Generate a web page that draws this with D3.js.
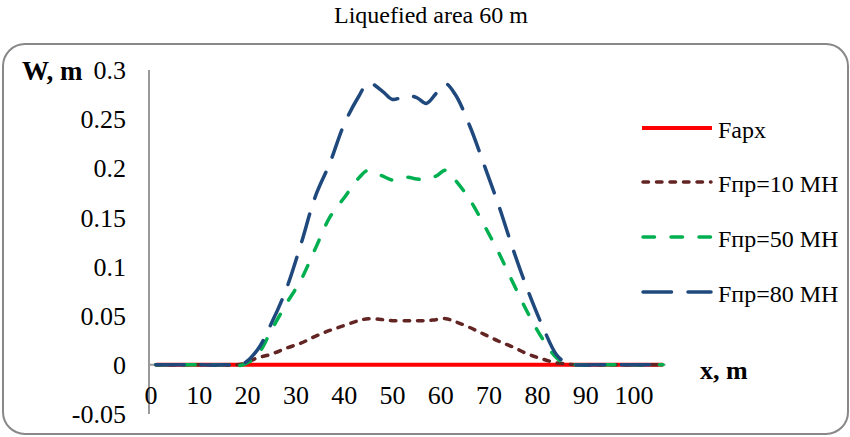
<!DOCTYPE html>
<html>
<head>
<meta charset="utf-8">
<script src="https://cdn.jsdelivr.net/npm/d3@7"></script>
<style>
  body { margin: 0; background: #fff; }
  svg { font-family: "Liberation Serif", "Times New Roman", serif; }
</style>
</head>
<body>
<svg id="chart" width="850" height="437"></svg>
<script>
// x positions, m
const xs = [1, 5, 10, 15, 19, 22, 25, 28, 31, 34, 37, 40, 43, 45, 48, 50, 53, 55, 57, 59, 61, 63, 66, 69, 72, 75, 78, 81, 84, 86, 88, 92, 96, 100, 106];

// deflection W, m
const fapx = xs.map(() => 0);
const f10 = [0, 0, 0, 0, 0.001, 0.007, 0.011, 0.017, 0.022, 0.029, 0.035, 0.040, 0.045, 0.047, 0.046, 0.045, 0.045, 0.045, 0.045, 0.046, 0.047, 0.044, 0.038, 0.031, 0.024, 0.018, 0.011, 0.006, 0.002, 0.001, 0, 0, 0, 0, 0];
const f50 = [0, 0, 0, 0, 0, 0.010, 0.036, 0.062, 0.086, 0.118, 0.150, 0.170, 0.190, 0.198, 0.192, 0.188, 0.191, 0.189, 0.189, 0.192, 0.198, 0.188, 0.168, 0.142, 0.114, 0.083, 0.053, 0.027, 0.007, 0.001, 0, 0, 0, 0, 0];
const f80 = [0, 0, 0, 0, 0.001, 0.015, 0.043, 0.077, 0.122, 0.171, 0.205, 0.245, 0.273, 0.287, 0.278, 0.270, 0.274, 0.272, 0.266, 0.276, 0.286, 0.275, 0.243, 0.203, 0.162, 0.117, 0.076, 0.040, 0.010, 0.002, 0, 0, 0, 0, 0];

const xTicks = [0, 10, 20, 30, 40, 50, 60, 70, 80, 90, 100];
const yTicks = ["-0.05", "0", "0.05", "0.1", "0.15", "0.2", "0.25", "0.3"];

const series = [
  { name: "Fapx", values: fapx, color: "#ff0000", dash: null, width: 4 },
  { name: "Fпр=10 MH", values: f10, color: "#632523", dash: "5.5,8", width: 3.5 },
  { name: "Fпр=50 MH", values: f50, color: "#00b050", dash: "11.5,16.5", width: 3.5 },
  { name: "Fпр=80 MH", values: f80, color: "#1f497d", dash: "28.5,16.5", width: 3.5 }
];

let svg = d3.select("#chart");

// outer frame
svg.append("rect")
  .attr("x", 3).attr("y", 44)
  .attr("width", 845).attr("height", 390)
  .attr("rx", 22).attr("ry", 22)
  .attr("fill", "#fff")
  .attr("stroke", "#888")
  .attr("stroke-width", 2);

svg.append("text")
  .attr("x", 431).attr("y", 23)
  .attr("text-anchor", "middle")
  .attr("font-size", "24px")
  .text("Liquefied area 60 m");

let x = d3.scaleLinear().domain([0, 110]).range([151, 682.3]);
let y = d3.scaleLinear().domain([-0.05, 0.3]).range([414, 70]);

// y axis
svg.append("line")
  .attr("x1", 149).attr("x2", 149)
  .attr("y1", y(0.3)).attr("y2", y(-0.05))
  .attr("stroke", "#999").attr("stroke-width", 2);

// x axis along zero
svg.append("line")
  .attr("x1", 149).attr("x2", x(106.5))
  .attr("y1", y(0)).attr("y2", y(0))
  .attr("stroke", "#999").attr("stroke-width", 2);

svg.append("g")
  .selectAll("text")
  .data(yTicks)
  .enter()
  .append("text")
  .attr("x", 126)
  .attr("y", (d) => y(+d))
  .attr("dy", "0.35em")
  .attr("text-anchor", "end")
  .attr("font-size", "26px")
  .text((d) => d);

svg.append("g")
  .selectAll("text")
  .data(xTicks)
  .enter()
  .append("text")
  .attr("x", (d) => x(d))
  .attr("y", 404)
  .attr("text-anchor", "middle")
  .attr("font-size", "26px")
  .text((d) => d);

svg.append("text")
  .attr("x", 22).attr("y", 80)
  .attr("font-size", "27px")
  .attr("font-weight", "bold")
  .text("W, m");

svg.append("text")
  .attr("x", 700).attr("y", 379)
  .attr("font-size", "26px")
  .attr("font-weight", "bold")
  .text("x, m");

let line = d3.line()
  .x((d, i) => x(xs[i]))
  .y((d) => y(d))
  .curve(d3.curveCatmullRom.alpha(0.5));

series.forEach(function (s) {
  svg.append("path")
    .datum(s.values)
    .attr("d", line)
    .attr("fill", "none")
    .attr("stroke", s.color)
    .attr("stroke-width", s.width)
    .attr("stroke-linecap", s.dash ? "round" : "butt")
    .attr("stroke-dasharray", s.dash);
});

// legend
let legend = svg.append("g");
let rows = [128, 182, 237, 292];
series.forEach(function (s, i) {
  legend.append("line")
    .attr("x1", s.dash ? 643 : 642).attr("x2", s.dash ? 711 : 712)
    .attr("y1", rows[i]).attr("y2", rows[i])
    .attr("stroke", s.color)
    .attr("stroke-width", s.width)
    .attr("stroke-linecap", s.dash ? "round" : "butt")
    .attr("stroke-dasharray", s.dash);
  legend.append("text")
    .attr("x", 718).attr("y", rows[i] + 10)
    .attr("font-size", "24px")
    .text(s.name);
});
</script>
</body>
</html>
